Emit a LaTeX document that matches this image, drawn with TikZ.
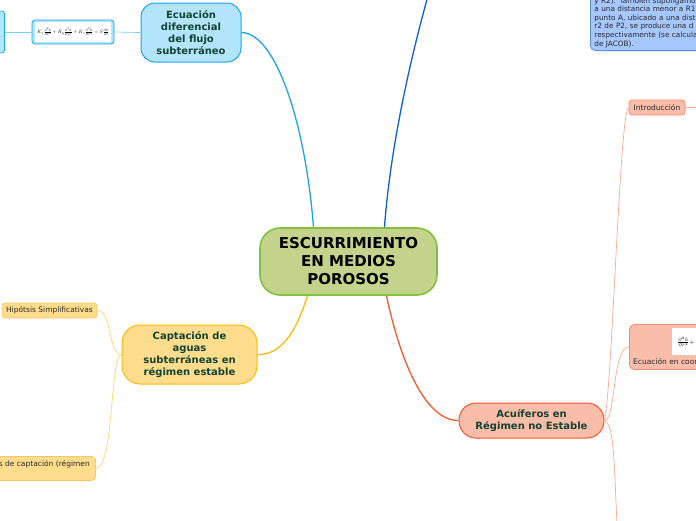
\documentclass[tikz,border=0pt]{standalone}
\usepackage{fontspec}
\setmainfont{DejaVu Sans}
\usepackage{amsmath}
\usepackage{graphicx}
\usetikzlibrary{positioning, calc}
\definecolor{cRoot}{RGB}{196, 211, 139}
\definecolor{bRoot}{RGB}{134, 190, 64}
\definecolor{cSky}{RGB}{178, 229, 251}
\definecolor{bSky}{RGB}{32, 163, 226}
\definecolor{lSky}{RGB}{120, 205, 242}
\definecolor{lDeep}{RGB}{13, 96, 208}
\definecolor{cNote}{RGB}{166, 199, 255}
\definecolor{bNote}{RGB}{88, 140, 232}
\definecolor{cSalmon}{RGB}{249, 189, 169}
\definecolor{bSalmon}{RGB}{243, 88, 45}
\definecolor{bPeach}{RGB}{242, 140, 110}
\definecolor{lSalmon}{RGB}{249, 168, 146}
\definecolor{cGold}{RGB}{255, 221, 140}
\definecolor{bGold}{RGB}{251, 185, 10}
\definecolor{bSand}{RGB}{246, 198, 110}
\definecolor{lGold}{RGB}{255, 210, 120}
\definecolor{tGreen}{RGB}{18, 66, 48}
\definecolor{tDark}{RGB}{40, 40, 40}

\begin{document}
\begin{tikzpicture}[
    x=1pt, y=-1pt,
    block/.style={
        draw=#1,
        line width=1pt,
        rounded corners=14pt,
        align=center,
        inner sep=0pt,
        text=tGreen,
        font=\bfseries\fontsize{10}{12}\selectfont
    },
    leaf/.style={
        draw=#1,
        line width=0.8pt,
        rounded corners=3pt,
        inner sep=0pt,
        text=tDark,
        font=\fontsize{7.5}{8.6}\selectfont
    },
    link/.style={line width=1.3pt, draw=#1},
    twig/.style={line width=0.7pt, draw=#1}
]
\useasboundingbox (0,0) rectangle (696,520);
\clip (0,0) rectangle (696,520);

\coordinate (offtop) at (428,-4);
\coordinate (offbot) at (617,524);
\coordinate (offright) at (700,107.5);

% central topic
\node[block=bRoot, fill=cRoot, line width=1.6pt, rounded corners=20pt,
      minimum width=177pt, minimum height=67pt, text=black,
      font=\bfseries\fontsize{15}{18}\selectfont] (root) at (348.5,261.5) {
    ESCURRIMIENTO\\EN MEDIOS\\POROSOS
};

% upper left branch
\node[block=bSky, fill=cSky, minimum width=100pt, minimum height=59pt] (ecu) at (191,32.5) {
    Ecuación\\diferencial\\del flujo\\subterráneo
};
\node[leaf=bSky, fill=cSky, minimum width=82pt, minimum height=24pt] (eqn) at (73,32) {};
\node[fill=white, inner sep=0pt, minimum width=76pt, minimum height=20pt] (eqnimg) at (eqn.center) {
    \scalebox{0.5}{$K_x\frac{\partial^2 h}{\partial x^2}+K_y\frac{\partial^2 h}{\partial y^2}+K_z\frac{\partial^2 h}{\partial z^2}=S\frac{\partial h}{\partial t}$}
};
\node[leaf=bSky, fill=cSky, minimum width=25pt, minimum height=42pt, anchor=east] (side) at (5,32) {};

% upper right note
\node[leaf=bNote, fill=cNote, rounded corners=5pt, anchor=south west, align=left,
      inner xsep=4pt, inner ysep=3pt, text width=170pt,
      font=\fontsize{7.3}{8.6}\selectfont] (nota) at (590,51) {
    y R2). También supongamos\\
    a una distancia menor a R1\\
    punto A, ubicado a una dist\\
    r2 de P2, se produce una d\\
    respectivamente (se calcula\\
    de JACOB).
};

% lower right branch
\node[block=bSalmon, fill=cSalmon, rounded corners=17pt, minimum width=145pt, minimum height=35pt] (acu) at (531.5,420.5) {
    Acuíferos en\\Régimen no Estable
};
\node[leaf=bPeach, fill=cSalmon, minimum width=56pt, minimum height=15pt] (intro) at (657,107.5) {Introducción};
\node[leaf=bPeach, fill=cSalmon, rounded corners=5pt, minimum width=120pt, minimum height=45pt, anchor=west] (ecoor) at (629,347) {};
\node[fill=white, inner sep=0pt, anchor=north west, minimum width=28pt, minimum height=27pt] (ecoorimg) at (672,328) {
    \scalebox{0.75}{$\frac{\partial^2 h}{\partial r^2}+$}
};
\node[text=tDark, font=\fontsize{7.5}{8}\selectfont, anchor=west, inner sep=0pt] (ecoortxt) at (633,362) {Ecuación en coor};

% lower left branch
\node[block=bGold, fill=cGold, rounded corners=18pt, minimum width=135pt, minimum height=59pt] (cap) at (189.5,354.5) {
    Captación de\\aguas\\subterráneas en\\régimen estable
};
\node[leaf=bSand, fill=cGold, minimum width=95pt, minimum height=15pt] (hip) at (49.5,310.5) {Hipótsis Simplificativas};
\node[leaf=bSand, fill=cGold, rounded corners=4pt, minimum width=130pt, minimum height=24pt, anchor=north east] (scap) at (96,456) {};
\node[text=tDark, font=\fontsize{7.5}{8}\selectfont, anchor=east, inner sep=0pt] (scaptxt) at ([xshift=-6pt,yshift=-8pt]scap.north east) {s de captación (régimen};

% main connectors
\draw[link=bSky] ([xshift=-35pt]root.north) .. controls (305,120) and (275,33) .. (ecu.east);
\draw[link=lDeep] ([xshift=36pt]root.north) .. controls (390,150) and (410,60) .. (offtop);
\draw[link=bSalmon] ([xshift=38pt]root.south) .. controls (400,360) and (425,421) .. (acu.west);
\draw[link=bGold] ([xshift=-41pt]root.south) .. controls (295,335) and (280,355) .. (cap.east);

% sub connectors
\draw[twig=lSky] (ecu.west) -- (eqn.east);
\draw[twig=lSky] (eqn.west) -- (side.east);
\draw[twig=lGold] (cap.west) .. controls (108,355) and (112,310) .. (hip.east);
\draw[twig=lGold] (cap.west) .. controls (110,355) and (114,468) .. (scap.east);
\draw[twig=lSalmon] (acu.east) .. controls (612,390) and (620,107) .. (intro.west);
\draw[twig=lSalmon] (acu.east) .. controls (616,421) and (612,347) .. (ecoor.west);
\draw[twig=lSalmon] (acu.east) .. controls (614,425) and (614,460) .. (offbot);
\draw[twig=lSalmon] (intro.east) -- (offright);

\end{tikzpicture}
\end{document}
